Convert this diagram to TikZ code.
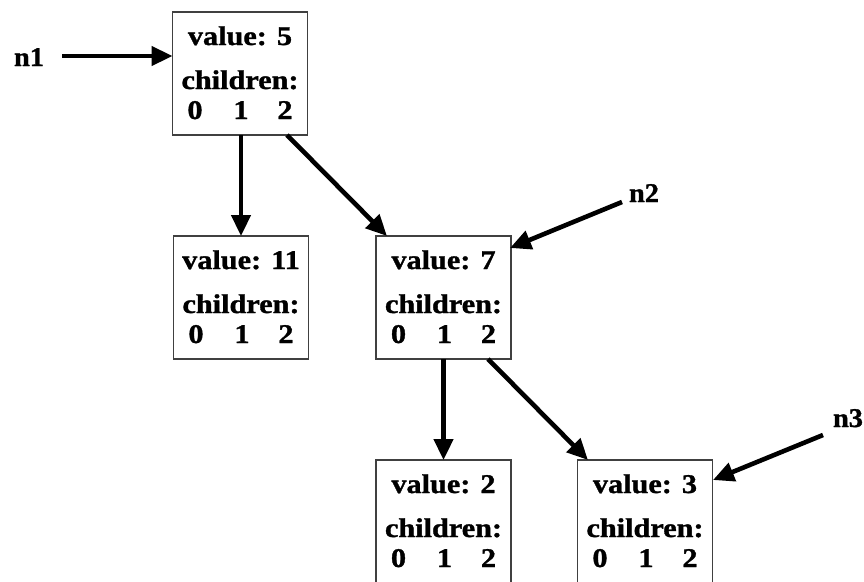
\documentclass[tikz,border=0pt]{standalone}
\usepackage{fontspec}
\setmainfont{Liberation Serif}
\newfontfamily\boxfont[FakeStretch=1.12, BoldFeatures={FakeBold=1.2}]{Liberation Serif}
\newfontfamily\lblfont[FakeStretch=1.05, BoldFeatures={FakeBold=1.2}]{Liberation Serif}
\usetikzlibrary{arrows.meta}
\tikzset{
  treebox/.style={draw=black!75, line width=1.6pt, minimum width=135pt, minimum height=123pt, inner sep=0pt, outer sep=0pt},
  txt/.style={font=\boxfont\fontsize{27}{29}\selectfont\bfseries, inner sep=0pt, anchor=base},
  lbl/.style={font=\lblfont\fontsize{27}{29}\selectfont\bfseries, inner sep=0pt, anchor=base},
  ptr/.style={line width=4.6pt, -{Triangle[length=21pt,width=19pt]}},
}
\newcommand{\treenode}[4]{%
  \node[treebox] (#1) at (#2,#3) {};
  \node[txt] (#1v) at ([yshift=-33pt]#1.north) {value: #4};
  \node[txt] (#1c) at ([yshift=-77pt]#1.north) {children:};
  \node[txt] (#1a) at ([xshift=-45pt,yshift=-107pt]#1.north) {0};
  \node[txt] (#1b) at ([xshift=1pt,yshift=-107pt]#1.north) {1};
  \node[txt] (#1d) at ([xshift=45pt,yshift=-107pt]#1.north) {2};
}
\begin{document}
\begin{tikzpicture}[x=1pt,y=1pt]
\useasboundingbox (0,0) rectangle (864,-581);
\treenode{A}{240}{-73.5}{5}
\treenode{B}{241}{-297.5}{11}
\treenode{C}{443.5}{-297.5}{7}
\treenode{D}{443.5}{-521.5}{2}
\treenode{E}{645}{-521.5}{3}
\node[lbl] (n1) at (29,-66) {n1};
\node[lbl] (n2) at (644,-202) {n2};
\node[lbl] (n3) at (848,-427) {n3};
\coordinate (n1s) at (62,-56);
\coordinate (n2s) at (622,-202);
\coordinate (n3s) at (823,-435);
\draw[ptr] (n1s) -- (A.west |- n1s);
\draw[ptr] (n2s) -- (510,-248);
\draw[ptr] (n3s) -- (713,-480);
\draw[ptr] (A.south -| 241,0) -- (B.north -| 241,0);
\draw[ptr] (A.south -| 287,0) -- (387,-236);
\draw[ptr] (C.south) -- (D.north);
\draw[ptr] (C.south -| 488,0) -- (588,-460);
\end{tikzpicture}
\end{document}
